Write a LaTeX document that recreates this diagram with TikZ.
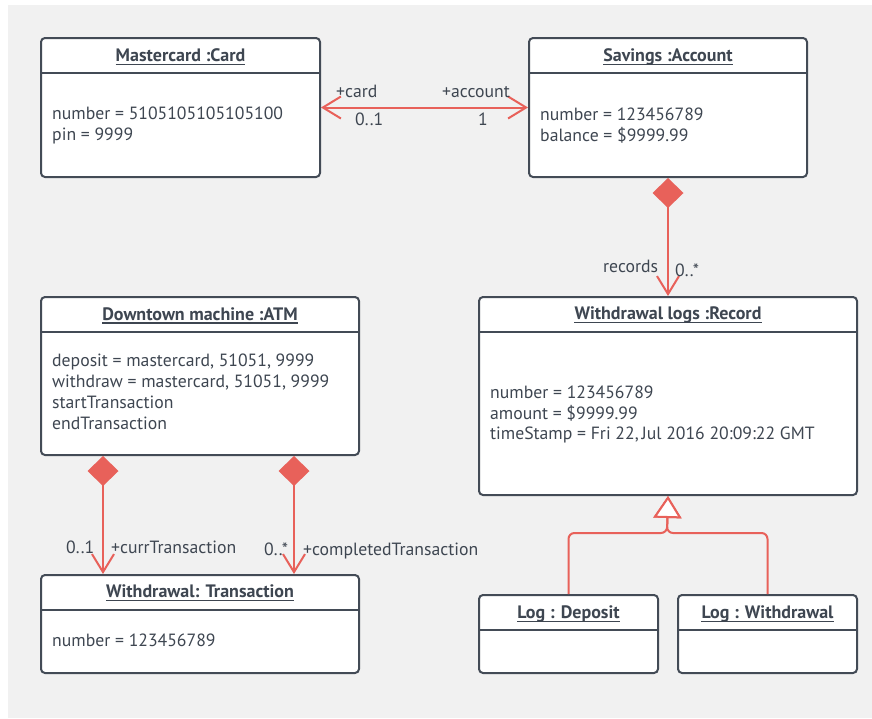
\documentclass[tikz,border=0pt]{standalone}
\usepackage{fontspec}
\setmainfont{PT Sans}
\usetikzlibrary{arrows.meta}

\definecolor{pagegrey}{HTML}{F1F1F1}
\definecolor{boxline}{HTML}{434B56}
\definecolor{ink}{HTML}{3E4651}
\definecolor{linkred}{HTML}{E8615A}

\tikzset{
  objbox/.style={draw=boxline, line width=2pt, fill=white, rounded corners=4pt,
                 anchor=north west, inner sep=0pt},
  divider/.style={draw=boxline, line width=2pt},
  objtitle/.style={anchor=base, inner xsep=0pt, inner ysep=1pt, text=ink,
                   font=\fontsize{18}{20}\selectfont\bfseries},
  uline/.style={draw=ink, line width=1.2pt},
  attr/.style={anchor=base west, inner sep=0pt, text=ink,
               font=\fontsize{17.7}{20}\selectfont},
  lbl/.style={anchor=base west, inner sep=0pt, text=ink,
              font=\fontsize{17.7}{20}\selectfont},
  assoc/.style={draw=linkred, line width=2pt},
  navtip/.tip={Straight Barb[length=18pt, width=22pt, line width=2pt]},
  comptip/.tip={Diamond[length=30pt, width=31pt]},
  gentip/.tip={Triangle[length=22pt, width=28pt, fill=white, line width=2pt]},
}

\begin{document}
\begin{tikzpicture}[x=1pt, y=-1pt]
  % canvas
  \useasboundingbox (0,0) rectangle (872,718);
  \fill[white] (0,0) rectangle (872,718);
  \fill[pagegrey] (8,5) rectangle (872,718);

  % object boxes
  \node[objbox, minimum width=279pt, minimum height=139pt] (card) at (40,37) {};
  \node[objbox, minimum width=278pt, minimum height=139pt] (acct) at (528,37) {};
  \node[objbox, minimum width=318pt, minimum height=158pt] (atm)  at (40,296) {};
  \node[objbox, minimum width=378pt, minimum height=198pt] (rec)  at (478,296) {};
  \node[objbox, minimum width=318pt, minimum height=98pt]  (tx)   at (40,574) {};
  \node[objbox, minimum width=179pt, minimum height=78pt]  (dep)  at (478,594) {};
  \node[objbox, minimum width=179pt, minimum height=78pt]  (wd)   at (677,594) {};

  % header dividers
  \foreach \b in {card,acct,atm,rec,tx,dep,wd}
    \draw[divider] ([yshift=-36pt]\b.north west) -- ([yshift=-36pt]\b.north east);

  % titles, underlined
  \node[objtitle] (cardT) at ([yshift=-24.5pt]card.north) {Mastercard :Card};
  \node[objtitle] (acctT) at ([yshift=-24.5pt]acct.north) {Savings :Account};
  \node[objtitle] (atmT)  at ([yshift=-24pt]atm.north)  {Downtown machine :ATM};
  \node[objtitle] (recT)  at ([yshift=-23.5pt]rec.north)  {Withdrawal logs :Record};
  \node[objtitle] (txT)   at ([yshift=-23.5pt]tx.north)   {Withdrawal: Transaction\ };
  \node[objtitle] (depT)  at ([yshift=-24.5pt]dep.north)  {Log : Deposit};
  \node[objtitle] (wdT)   at ([yshift=-24.5pt]wd.north)   {Log : Withdrawal};
  \foreach \t in {cardT,acctT,atmT,recT,txT,depT,wdT}
    \draw[uline] ([yshift=-3pt]\t.base west) -- ([yshift=-3pt]\t.base east);

  % attributes
  \node[attr] (cardA1) at (52,119.5) {number = 5105105105105100};
  \node[attr] (cardA2) at (52,140)   {pin = 9999};
  \node[attr] (acctA1) at (540,120.5) {number = 123456789};
  \node[attr] (acctA2) at (540,141)   {balance = \$9999.99};
  \node[attr] (atmA1) at (52,366)   {deposit = mastercard, 51051, 9999};
  \node[attr] (atmA2) at (52,387)   {withdraw = mastercard, 51051, 9999};
  \node[attr] (atmA3) at (52,408.5) {startTransaction};
  \node[attr] (atmA4) at (52,429.5) {endTransaction};
  \node[attr] (recA1) at (490,398)  {number = 123456789};
  \node[attr] (recA2) at (490,419)  {amount = \$9999.99};
  \node[attr] (recA3) at (490,439.5){timeStamp = Fri 22,\,Jul 2016 20:09:22 GMT};
  \node[attr] (txA1)  at (52,646.5) {number = 123456789};

  % card <-> account association
  \draw[assoc, navtip-navtip] (card.east) -- (acct.west);
  \node[lbl] (l1) at (336,97)  {+card};
  \node[lbl] (l2) at (442,97)  {+account};
  \node[lbl] (l3) at (355,125) {0..1};
  \node[lbl] (l4) at (478,125) {1};

  % account composes records
  \draw[assoc, comptip-navtip] (acct.south) -- (rec.north);
  \node[lbl] (l5) at (603,272) {records};
  \node[lbl] (l6) at (675,276) {0..*};

  % ATM composes transactions
  \draw[assoc, comptip-navtip] ([xshift=63pt]atm.south west) -- ([xshift=63pt]tx.north west);
  \draw[assoc, comptip-navtip] ([xshift=254pt]atm.south west) -- ([xshift=254pt]tx.north west);
  \node[lbl] (l7)  at (66,553)  {0..1};
  \node[lbl] (l8)  at (111,553) {+currTransaction};
  \node[lbl] (l9)  at (264,555) {0..*};
  \node[lbl] (l10) at (303,555) {+completedTransaction};

  % generalisation of the two log kinds
  \coordinate (gj) at (667,533);
  \draw[assoc, rounded corners=6pt, -gentip] (dep.north) |- (gj) -- (rec.south);
  \draw[assoc, rounded corners=6pt, -gentip] (wd.north) |- (gj) -- (rec.south);
\end{tikzpicture}
\end{document}
